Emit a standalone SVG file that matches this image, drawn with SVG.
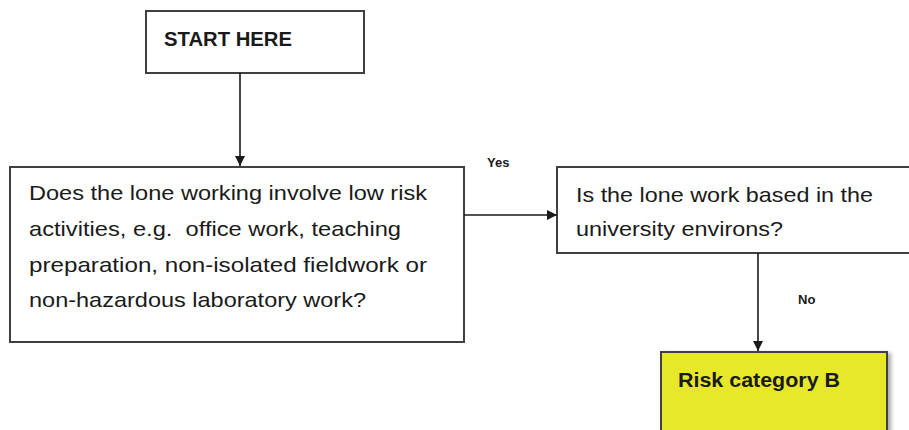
<svg xmlns="http://www.w3.org/2000/svg" width="909" height="430" viewBox="0 0 909 430">
<style>
.box{fill:#fff;stroke:#404040;stroke-width:2}
.t{font-family:"Liberation Sans",Arial,sans-serif;font-size:21px;fill:#1a1a1a}
.b{font-family:"Liberation Sans",Arial,sans-serif;font-weight:bold;fill:#1a1a1a}
.c{stroke:#1a1a1a;stroke-width:1.6;fill:none;marker-end:url(#ah)}
</style>
<defs>
<marker id="ah" viewBox="0 0 10 10" refX="10" refY="5" markerWidth="11" markerHeight="10" markerUnits="userSpaceOnUse" orient="auto">
<path d="M0,0 L10,5 L0,10 z" fill="#1a1a1a"/>
</marker>
<filter id="sh" x="-10%" y="-10%" width="130%" height="130%">
<feGaussianBlur in="SourceAlpha" stdDeviation="2"/>
<feOffset dx="3" dy="2"/>
<feComponentTransfer><feFuncA type="linear" slope="0.35"/></feComponentTransfer>
<feMerge><feMergeNode/><feMergeNode in="SourceGraphic"/></feMerge>
</filter>
</defs>
<rect width="909" height="430" fill="#fff"/>
<g id="start">
<rect class="box" x="146" y="11" width="218" height="62"/>
<text class="b" x="164" y="46" font-size="20" textLength="128" lengthAdjust="spacingAndGlyphs">START HERE</text>
</g>
<g id="q1">
<rect class="box" x="10" y="167" width="454" height="175"/>
<text class="t" x="29" y="200" textLength="398" lengthAdjust="spacingAndGlyphs">Does the lone working involve low risk</text>
<text class="t" x="29" y="236" textLength="372" lengthAdjust="spacingAndGlyphs">activities, e.g.&#160; office work, teaching</text>
<text class="t" x="29" y="272" textLength="398" lengthAdjust="spacingAndGlyphs">preparation, non-isolated fieldwork or</text>
<text class="t" x="29" y="307" textLength="337" lengthAdjust="spacingAndGlyphs">non-hazardous laboratory work?</text>
</g>
<g id="q2">
<rect class="box" x="557" y="167" width="360" height="86"/>
<text class="t" x="576" y="202" textLength="297" lengthAdjust="spacingAndGlyphs">Is the lone work based in the</text>
<text class="t" x="576" y="236" textLength="207" lengthAdjust="spacingAndGlyphs">university environs?</text>
</g>
<g id="riskB">
<rect x="661" y="352" width="226" height="90" fill="#e8e82a" stroke="#404040" stroke-width="2" filter="url(#sh)"/>
<text class="b" x="678" y="387" font-size="20" textLength="162" lengthAdjust="spacingAndGlyphs">Risk category B</text>
</g>
<g id="connectors">
<line class="c" x1="240" y1="73" x2="240" y2="166"/>
<line class="c" x1="464" y1="215" x2="557" y2="215"/>
<line class="c" x1="758" y1="253" x2="758" y2="351"/>
<text class="b" x="487" y="167" font-size="13">Yes</text>
<text class="b" x="798" y="304" font-size="13">No</text>
</g>
</svg>
